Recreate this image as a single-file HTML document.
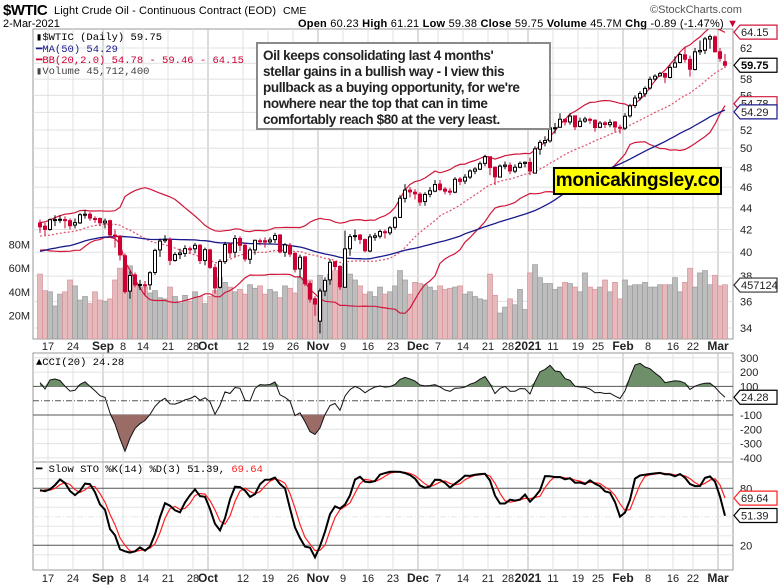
<!DOCTYPE html>
<html><head><meta charset="utf-8"><style>
html,body{margin:0;padding:0;background:#fff;width:778px;height:585px;overflow:hidden;font-family:"Liberation Sans",sans-serif}
#wrap{position:relative;width:778px;height:585px}
svg{position:absolute;left:0;top:0}
.note{position:absolute;left:256px;top:42px;width:286px;height:80px;border:2px solid #8a8a8a;background:#fff;font:bold 13.5px "Liberation Sans",sans-serif;line-height:16px;padding:4px 0 0 5px;color:#222;white-space:nowrap;letter-spacing:-0.4px}
.brand{position:absolute;left:553px;top:167px;width:165px;height:24px;border:2px solid #000;background:#ffff00;font:bold 19px "Liberation Sans",sans-serif;text-align:center;line-height:24px;color:#000;white-space:nowrap;letter-spacing:-0.3px}
</style></head><body><div id="wrap">
<svg id="chart" width="778" height="585"></svg>
<div class="note">Oil keeps consolidating last 4 months'<br>stellar gains in a bullish way - I view this<br>pullback as a buying opportunity, for we're<br>nowhere near the top that can in time<br>comfortably reach $80 at the very least.</div>
<div class="brand">monicakingsley.co</div>
</div>
<script>
const priorCloses=[37.29,37.41,39.55,38.19,38.94,39.60,36.34,36.26,36.12,37.38,38.38,38.84,39.75,40.46,40.73,38.01,38.72,39.27,39.70,39.82,40.65,40.63,40.55,40.90,39.62,40.10,40.20,40.75,40.81,40.59,41.20,41.96,41.07,41.41,41.29,41.60,41.04,41.27,39.92,40.27,41.01,41.70,41.19,41.53,41.95,41.22,41.94,41.61,42.67];
const closes=[42.24,42.01,42.89,42.89,42.93,42.82,42.34,42.62,43.35,43.39,43.04,42.97,42.61,
42.76,41.51,41.37,39.77,36.76,38.05,37.30,37.33,37.26,38.28,40.16,40.97,41.11,39.31,39.80,39.93,40.31,40.25,40.60,39.29,40.22,
38.72,37.05,39.22,40.67,39.95,41.19,40.60,39.43,40.20,41.04,40.96,40.88,41.06,41.46,40.03,40.64,39.85,38.56,39.57,37.39,36.17,35.79,
36.81,37.66,39.15,38.79,37.14,40.29,41.36,41.45,41.12,40.13,41.34,41.43,41.82,41.74,42.15,43.06,44.91,45.71,45.53,45.34,
44.55,45.28,45.64,46.26,45.76,45.60,45.52,46.78,46.57,46.99,47.62,47.82,48.36,49.10,47.97,47.02,48.12,48.23,47.62,48.00,48.40,48.52,
47.62,49.93,50.63,50.83,52.24,52.25,53.21,52.91,53.57,52.36,52.98,53.24,53.13,52.27,52.77,52.61,52.85,52.34,52.20,
53.55,54.76,55.69,56.23,56.85,57.97,58.36,58.68,58.24,59.47,60.05,61.14,60.52,59.24,61.49,61.67,63.22,63.53,61.50,
60.64,59.75];
const opens=[42.6,42.3,42.0,42.9,42.9,42.9,42.8,42.4,42.6,43.4,43.4,43.0,43.0,
42.6,42.8,41.5,41.4,39.7,36.8,38.1,37.3,37.3,37.3,38.3,40.2,41.0,41.1,39.3,39.8,39.9,40.3,40.3,40.6,39.3,
40.2,38.7,37.1,39.2,40.7,40.0,41.2,40.6,39.4,40.2,41.0,41.0,40.9,41.1,41.5,40.0,40.6,39.9,38.6,39.6,37.4,36.2,
34.5,36.8,37.7,39.2,38.8,37.1,40.3,41.4,41.5,41.1,40.1,41.3,41.4,41.8,41.7,42.2,43.1,44.9,45.7,45.5,
45.3,44.6,45.3,45.6,46.3,45.8,45.6,45.5,46.8,46.6,47.0,47.6,47.8,48.4,49.1,48.0,47.0,48.1,48.2,47.6,48.0,48.4,
48.5,47.4,49.9,50.6,50.8,52.2,52.3,53.2,52.9,53.6,52.4,53.0,53.2,53.1,52.3,52.8,52.6,52.9,52.3,
52.2,53.6,54.8,55.7,56.2,56.9,58.0,58.4,58.7,58.2,59.5,60.1,61.1,60.5,59.2,61.5,61.7,63.2,63.5,
61.5,60.2];
const highs=[42.9,42.6,43.0,43.3,43.3,43.2,43.0,43.0,43.5,43.8,43.6,43.2,43.1,
43.0,42.9,42.0,41.5,39.9,38.4,38.3,37.7,37.6,38.4,40.3,41.2,41.5,41.3,40.0,40.3,40.6,40.5,40.8,40.7,40.4,
40.3,39.0,39.4,40.9,40.8,41.5,41.4,40.8,40.4,41.1,41.2,41.3,41.3,41.7,41.6,40.8,40.8,40.0,39.8,39.7,37.6,36.4,
37.0,37.9,39.4,39.2,38.9,41.9,41.6,42.0,41.6,41.2,41.6,41.7,42.0,42.0,42.3,43.2,45.2,46.3,46.0,45.8,
45.5,45.5,46.0,46.7,46.7,46.0,45.9,47.0,47.0,47.3,47.8,48.0,48.6,49.3,49.1,48.1,48.3,48.6,48.5,48.3,48.6,48.6,
49.0,50.2,50.9,51.3,52.7,52.8,53.9,53.3,53.9,53.6,53.4,53.5,53.4,53.2,53.0,53.0,53.2,53.0,52.6,
53.9,55.0,56.0,56.5,57.1,58.3,58.6,58.9,58.8,59.8,60.9,61.3,62.2,61.0,62.0,63.0,63.5,63.8,63.7,
62.0,61.2];
const lows=[41.7,41.5,41.9,42.3,42.6,42.1,42.0,42.1,42.5,43.0,42.8,42.6,42.3,
42.1,41.3,40.4,39.3,36.6,36.2,37.1,36.9,36.5,36.9,38.1,39.6,40.8,38.9,39.2,39.4,39.6,39.9,39.9,39.0,38.9,
38.6,36.6,37.0,39.0,39.5,39.6,40.1,39.2,39.0,39.8,40.6,40.4,40.7,40.8,39.9,39.6,39.6,38.3,37.9,37.2,35.9,34.9,
33.6,36.4,37.3,38.5,36.9,37.2,39.7,41.0,40.7,40.0,40.0,41.0,41.2,41.2,41.5,42.0,43.1,44.5,45.0,44.8,
44.2,44.2,45.0,45.5,45.6,45.3,45.2,45.4,46.2,46.3,46.8,47.3,47.7,48.1,47.2,46.2,47.0,47.8,47.3,47.4,47.9,48.0,
47.2,47.4,49.3,50.2,50.6,51.6,52.4,52.5,52.6,52.0,52.3,52.8,52.7,51.8,52.2,52.2,52.3,51.8,51.6,
52.0,53.4,54.5,55.4,55.8,56.7,57.8,58.3,57.5,58.1,59.5,60.0,60.1,58.3,59.1,61.1,61.2,61.9,61.4,
60.2,59.4];
const volumes=[55,41,40,28,38,40,50,45,33,36,30,40,33,
32,34,50,60,57,62,48,44,44,39,41,35,34,44,36,30,37,32,40,36,30,
36,41,52,48,44,40,42,38,46,43,45,38,42,40,35,45,43,39,52,48,50,30,
54,45,55,58,48,64,55,50,45,38,40,36,44,38,40,45,58,50,38,48,
47,46,44,41,45,42,43,44,45,38,40,36,34,33,55,37,22,27,34,29,42,25,
56,63,52,47,47,42,44,48,47,44,40,56,44,42,44,50,40,48,34,
50,45,46,46,48,44,44,46,46,46,52,40,48,60,44,56,58,46,54,
45,46];
const dateLabels=["17","24","Sep","8","14","21","28","Oct","12","19","26","Nov","9","16","23","Dec","7","14","21","28","2021","11","19","25","Feb","8","16","22","Mar"];
const dateIdx=[2,7,13,17,21,26,31,34,41,46,51,56,61,66,71,76,80,85,90,94,98,103,108,112,117,122,127,131,136];
const priceTicks=[34,36,38,40,42,44,46,48,50,52,54,56,58,60,62];
const volTicks=[20,40,60,80];
const cciTicks=[300,200,100,-100,-200,-300,-400];
const stoTicks=[80,20];

const NS='http://www.w3.org/2000/svg';
const svg=document.getElementById('chart');
function mk(tag,attrs,parent){const e=document.createElementNS(NS,tag);for(const k in attrs)e.setAttribute(k,attrs[k]);(parent||svg).appendChild(e);return e;}
const L=33,R=733,MT=29,MB=339,CT=353,CB=462,ST=462,SB=570;
const xOf=i=>40+i*5;
const yP=p=>48+466*Math.log(62/p);
const yV=v=>339-v*1.18;
const yC=v=>400.7-v*0.143;
const yS=v=>564.3-v*0.95;
const N=closes.length;
const allC=priorCloses.concat(closes);
const allH=priorCloses.map(c=>c+0.5).concat(highs);
const allLo=priorCloses.map(c=>c-0.5).concat(lows);
const P=priorCloses.length;
function sma(a,n,i){let s=0;for(let k=i-n+1;k<=i;k++)s+=a[k];return s/n;}

const defs=mk('defs',{});
function clip(id,y1,y2){const c=mk('clipPath',{id:id},defs);mk('rect',{x:L,y:y1,width:R-L,height:y2-y1},c);}
clip('cm',MT,MB);clip('cc',CT,CB);clip('cs',ST,SB);

[[MT,MB,'main-panel'],[CT,CB,'cci-panel'],[ST,SB,'stochastic-panel']].forEach(p=>{
 const r=mk('rect',{x:L,y:p[0],width:R-L,height:p[1]-p[0],fill:'#fff',stroke:'#999','stroke-width':1});
 
 
});
dateIdx.forEach((idx,j)=>{
 const bold=isNaN(+dateLabels[j])||dateLabels[j]==='2021';
 [[MT,MB],[CT,CB],[ST,SB]].forEach(p=>{
  const g=mk('line',{x1:xOf(idx)-2,x2:xOf(idx)-2,y1:p[0],y2:p[1],stroke:bold?'#b8b8b8':'#e0e0e0','stroke-width':1});
  
  
 });
 [346,578].forEach(yy=>{
  const t=mk('text',{x:xOf(idx)-2,y:yy+4,'text-anchor':'middle','font-size':bold?12:11,'font-weight':bold?'bold':'normal',fill:'#222','font-family':'Liberation Sans, sans-serif'});
  t.textContent=dateLabels[j];
  
  
 });
});
priceTicks.forEach(p=>{
 const g=mk('line',{x1:L,x2:R,y1:yP(p),y2:yP(p),stroke:'#e0e0e0'});
 
 
 if(p===60)return;
 const t=mk('text',{x:740,y:yP(p)+4,'font-size':11,fill:'#222'});
 t.textContent=p;
 
 
});
volTicks.forEach(v=>{
 const t=mk('text',{x:30,y:yV(v)+4,'font-size':11,fill:'#222','text-anchor':'end'});
 t.textContent=v+'M';
 
 
});
const gm=mk('g',{'clip-path':'url(#cm)'});
for(let i=0;i<N;i++){
 const down=allC[P+i]<allC[P+i-1];
 const b=mk('rect',{x:xOf(i)-2.5,y:yV(volumes[i]),width:5,height:339-yV(volumes[i]),fill:down?'#e6b9bd':'#bdbdbd',stroke:down?'#d7939a':'#9c9c9c','stroke-width':0.7},gm);
 
 
}
const ma=[],bu=[],bm=[],bl=[];
for(let i=0;i<N;i++){
 const k=P+i;const m=sma(allC,20,k);let s=0;for(let j=k-19;j<=k;j++)s+=(allC[j]-m)**2;const sd=Math.sqrt(s/20);
 ma.push([xOf(i),yP(sma(allC,50,k))]);bu.push([xOf(i),yP(m+2*sd)]);bm.push([xOf(i),yP(m)]);bl.push([xOf(i),yP(m-2*sd)]);
}
function pl(pts,stroke,w,dash,name,parent){const l=mk('polyline',{points:pts.map(p=>p[0].toFixed(1)+','+p[1].toFixed(1)).join(' '),fill:'none',stroke:stroke,'stroke-width':w,'stroke-dasharray':dash||'none'},parent);return l;}
let e;
e=pl(bu,'#d0163c',1.2,null,'',gm);


e=pl(bl,'#d0163c',1.2,null,'',gm);


e=pl(bm,'#e0506a',1.2,'2,2','',gm);


e=pl(ma,'#1a1a8c',1.3,null,'',gm);


for(let i=0;i<N;i++){
 const o=opens[i],c=closes[i],h=highs[i],lw=lows[i];
 const col=c<allC[P+i-1]?'#cc0033':'#000';
 const x=xOf(i);
 const w=mk('line',{x1:x,x2:x,y1:yP(h),y2:yP(lw),stroke:col,'stroke-width':1},gm);
 
 
 const top=yP(Math.max(o,c)),bot=yP(Math.min(o,c));
 const b=mk('rect',{x:x-1.5,y:top,width:3,height:Math.max(1,bot-top),fill:c>o?'#fff':col,stroke:col,'stroke-width':1},gm);
 
 
}
const tp=allC.map((c,k)=>(allH[k]+allLo[k]+c)/3);
const cci=[];
for(let i=0;i<N;i++){const k=P+i;const m=sma(tp,20,k);let d=0;for(let j=k-19;j<=k;j++)d+=Math.abs(tp[j]-m);d/=20;cci.push((tp[k]-m)/(0.015*d));}
const gc=mk('g',{'clip-path':'url(#cc)'});
cciTicks.forEach(v=>{
 const g=mk('line',{x1:L,x2:R,y1:yC(v),y2:yC(v),stroke:(v===100||v===-100)?'#555':'#e0e0e0'},gc);
 
 
 const t=mk('text',{x:740,y:yC(v)+4,'font-size':11,fill:'#222'});
 t.textContent=v;
 
 
});
e=mk('line',{x1:L,x2:R,y1:yC(0),y2:yC(0),stroke:'#555','stroke-dasharray':'6,2,1,2'},gc);


const cpts=cci.map((v,i)=>[xOf(i),yC(v)]);
const up=cpts.map(p=>[p[0],Math.min(p[1],yC(100))]);
e=mk('polygon',{points:up.concat([[xOf(N-1),yC(100)],[xOf(0),yC(100)]]).map(p=>p.join(',')).join(' '),fill:'#6e8f6a',stroke:'none'},gc);


const dn=cpts.map(p=>[p[0],Math.max(p[1],yC(-100))]);
e=mk('polygon',{points:dn.concat([[xOf(N-1),yC(-100)],[xOf(0),yC(-100)]]).map(p=>p.join(',')).join(' '),fill:'#9b6b66',stroke:'none'},gc);


e=pl(cpts,'#111',1,null,'',gc);


const fk=[];for(let k=0;k<allC.length;k++){if(k<13){fk.push(50);continue;}let hh=-1e9,ll=1e9;for(let j=k-13;j<=k;j++){hh=Math.max(hh,allH[j]);ll=Math.min(ll,allLo[j]);}fk.push((allC[k]-ll)/(hh-ll)*100);}
const sk=fk.map((v,k)=>k<2?v:(fk[k]+fk[k-1]+fk[k-2])/3);
const sd=sk.map((v,k)=>k<2?v:(sk[k]+sk[k-1]+sk[k-2])/3);
const gs=mk('g',{'clip-path':'url(#cs)'});
for(let v=10;v<=90;v+=10){
 const g=mk('line',{x1:L,x2:R,y1:yS(v),y2:yS(v),stroke:(v===80||v===20)?'#555':'#e6e6e6','stroke-dasharray':v===50?'6,2,1,2':'none'},gs);
 
 
}
stoTicks.forEach(v=>{
 const t=mk('text',{x:740,y:yS(v)+4,'font-size':11,fill:'#222'});
 t.textContent=v;
 
 
});
e=pl(closes.map((c,i)=>[xOf(i),yS(sd[P+i])]),'#ff2020',1.2,null,'',gs);


e=pl(closes.map((c,i)=>[xOf(i),yS(sk[P+i])]),'#000',2,null,'',gs);


function tag(y,txt,stroke,color,bold,name){
 const g=mk('g',{});
 
 
 mk('path',{d:`M734,${y} L740,${y-7} L777,${y-7} L777,${y+7} L740,${y+7} Z`,fill:'#fff',stroke:stroke,'stroke-width':1.2},g);
 const t=mk('text',{x:741,y:y+4,'font-size':11,'font-weight':bold?'bold':'normal',fill:color},g);
 t.textContent=txt;
}
tag(yP(54.78)-2,'54.78','#d0163c','#222',false,'bb-lower-tag');
tag(yP(54.29)+2,'54.29','#1a1a8c','#222',false,'ma50-tag');
tag(yP(64.15),'64.15','#d0163c','#222',false,'bb-upper-tag');
tag(yP(59.75),'59.75','#000','#000',true,'last-price-tag');
tag(yV(45.7),'457124','#333','#222',false,'volume-tag');
tag(yC(24.28),'24.28','#000','#222',false,'cci-value-tag');
tag(yS(69.64),'69.64','#ff2020','#222',false,'sto-d-tag');
tag(yS(51.39),'51.39','#000','#222',false,'sto-k-tag');
function txt(x,y,s,attrs,name){const t=mk('text',Object.assign({x:x,y:y},attrs));t.textContent=s;
 
 
 return t;}
const mono={'font-family':'Liberation Mono, monospace','font-size':10.5};
txt(3,15,'$WTIC',{'font-size':15,'font-weight':'bold',fill:'#000','letter-spacing':'-0.5'},'ticker-title');
txt(54,14,'Light Crude Oil - Continuous Contract (EOD)',{'font-size':11,fill:'#000','textLength':'222'},'instrument-name');
txt(283,14,'CME',{'font-size':10.5,fill:'#000'},'exchange-label');
txt(650,13,'©StockCharts.com',{'font-size':11,fill:'#555'},'watermark-stockcharts');
txt(3,27,'2-Mar-2021',{'font-size':11,fill:'#000'},'chart-date');
const q=txt(298,27,'',{'font-size':11,fill:'#000','textLength':'440'},'quote-summary');
q.innerHTML='<tspan font-weight="bold">Open</tspan> 60.23 <tspan font-weight="bold">High</tspan> 61.21 <tspan font-weight="bold">Low</tspan> 59.38 <tspan font-weight="bold">Close</tspan> 59.75 <tspan font-weight="bold">Volume</tspan> 45.7M <tspan font-weight="bold">Chg</tspan> -0.89 (-1.47%) <tspan fill="#cc0033">▼</tspan>';
txt(36,40,'▮$WTIC (Daily) 59.75',Object.assign({fill:'#000'},mono),'legend-price');
txt(36,52,'━MA(50) 54.29',Object.assign({fill:'#1a1a8c'},mono),'legend-ma50');
txt(36,63,'━BB(20,2.0) 54.78 - 59.46 - 64.15',Object.assign({fill:'#cc0033'},mono),'legend-bb');
txt(36,74,'▮Volume 45,712,400',Object.assign({fill:'#444'},mono),'legend-volume');
txt(36,365,'▲CCI(20) 24.28',Object.assign({fill:'#000'},mono),'legend-cci');
const sl=txt(36,472,'',Object.assign({fill:'#000'},mono),'legend-stochastic');
sl.innerHTML='━ Slow STO %K(14) %D(3) 51.39, <tspan fill="#ff2020">69.64</tspan>';
</script></body></html>
